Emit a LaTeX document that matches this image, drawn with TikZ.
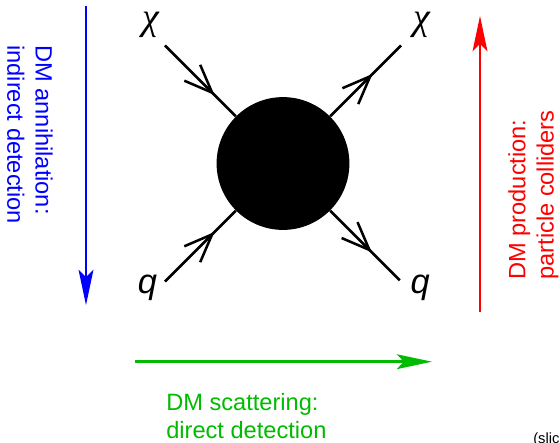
\documentclass[tikz,border=0pt]{standalone}
\usepackage{fontspec}
\setmainfont{Liberation Sans}
\newfontfamily\greekfont{Liberation Serif}
\usepackage{tikz}
\usetikzlibrary{arrows.meta,decorations.markings,positioning}
\usepackage{xcolor}
\definecolor{dmgreen}{RGB}{0,187,0}

\begin{document}
\begin{tikzpicture}[
    leg/.style={line width=1.8pt},
    fermion/.style={postaction={decorate,decoration={markings,
        mark=at position #1 with {\arrow{Straight Barb[length=20pt,width=16pt]}}}}},
    process/.style={line width=1.8pt, -{Stealth[length=25pt,width=10.5pt,inset=5pt]}},
    chan/.style={font=\fontsize{16.8}{20}\selectfont, align=left, inner sep=0pt},
    particle/.style={font=\fontsize{27}{30}\selectfont\itshape, inner sep=0pt}
]
    \useasboundingbox (-7.075,-6.9625) rectangle (6.925,4.0875);

    % Blob and external legs
    \node[circle, fill=black, minimum size=3.32cm, inner sep=0pt] (blob) at (0,0) {};
    \coordinate (chiin) at (-2.95, 2.95);
    \coordinate (chiout) at (2.95, 2.95);
    \coordinate (qin) at (-2.95, -2.95);
    \coordinate (qout) at (2.92, -2.92);

    \draw[leg, fermion=0.7] (chiin) -- (blob);
    \draw[leg, fermion=0.7] (qin) -- (blob);
    \draw[leg, fermion=0.6] (blob) -- (chiout);
    \draw[leg, fermion=0.6] (blob) -- (qout);

    % Particle labels
    \node[particle] (chil) at (-3.31, 3.46) {\greekfont χ};
    \node[particle] (chir) at (3.47, 3.46) {\greekfont χ};
    \node[particle, font=\fontsize{24.5}{28}\selectfont\itshape] (ql) at (-3.39, -3.1) {q};
    \node[particle, font=\fontsize{24.5}{28}\selectfont\itshape] (qr) at (3.43, -3.1) {q};

    % Annihilation
    \coordinate (annstart) at (-4.925, 3.94);
    \coordinate (annend) at (-4.925, -3.54);
    \draw[process, blue] (annstart) -- (annend);
    \node[chan, blue, rotate=-90, anchor=north west] (anntext) at (-5.75, 2.96)
        {DM annihilation:\\indirect detection};

    % Production
    \coordinate (prodstart) at (4.925, -3.71);
    \coordinate (prodend) at (4.925, 3.69);
    \draw[process, red] (prodstart) -- (prodend);
    \node[chan, red, rotate=90, anchor=north west] (prodtext) at (5.625, -2.91)
        {DM production:\\particle colliders};

    % Scattering
    \coordinate (scatstart) at (-3.7, -4.955);
    \coordinate (scatend) at (3.725, -4.955);
    \draw[process, dmgreen] (scatstart) -- (scatend);
    \node[chan, dmgreen, anchor=north west] (scattext) at (-2.925, -5.74)
        {DM scattering:\\direct detection};

    \node[font=\fontsize{10.5}{12}\selectfont, inner sep=0pt, anchor=base west] (note) at (6.25, -6.99) {(slic};
\end{tikzpicture}
\end{document}
